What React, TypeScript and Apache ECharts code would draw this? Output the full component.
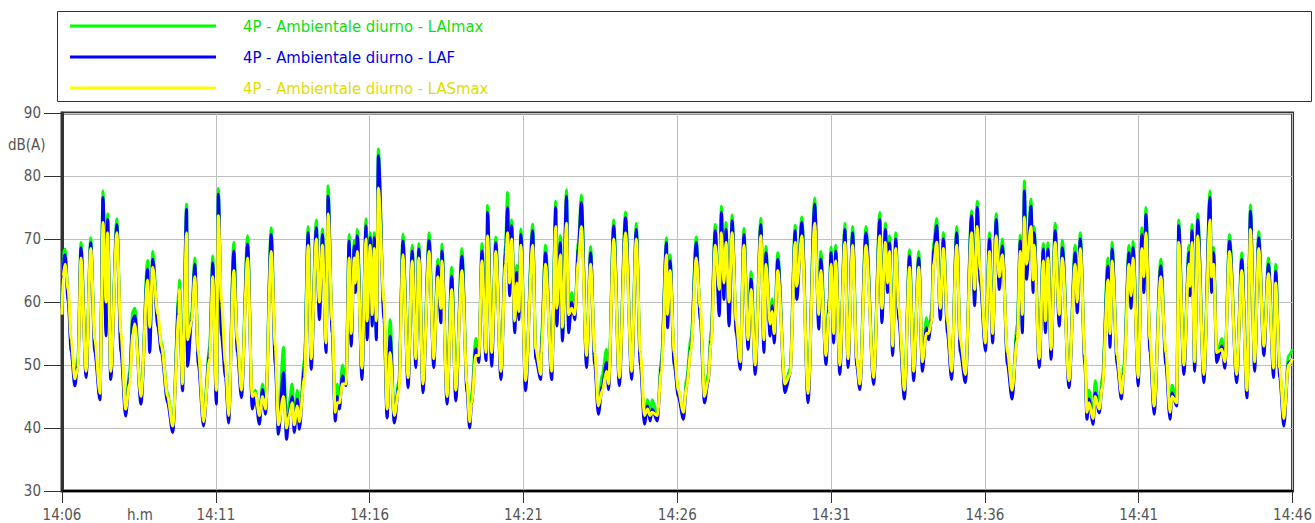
import React, { useEffect, useRef } from "react";
import * as echarts from "echarts";

// seconds elapsed since 14:06:00
const TIMES = [
  0, 2, 6, 12, 18, 25, 31, 37, 47, 56, 64, 74, 80, 86, 89, 95, 107, 115, 124, 132,
  138, 142, 154, 167, 171, 177, 187, 194, 206, 216, 228, 229, 235, 243, 245, 253, 259, 266, 276, 288,
  294, 301, 305, 311, 319, 325, 335, 342, 350, 362, 371, 377, 385, 391, 397, 408, 416, 422, 432, 438,
  443, 449, 453, 459, 463, 473, 480, 486, 496, 502, 508, 515, 519, 527, 533, 537, 541, 547, 554, 560,
  564, 570, 572, 576, 585, 593, 595, 601, 605, 609, 613, 617, 628, 634, 640, 648, 657, 665, 675, 683,
  690, 696, 704, 716, 725, 733, 739, 741, 751, 760, 768, 780, 790, 795, 799, 807, 813, 819, 827, 830,
  838, 846, 856, 865, 869, 873, 877, 883, 887, 891, 895, 904, 918, 924, 934, 935, 943, 955, 963, 965,
  972, 976, 984, 988, 994, 1000, 1007, 1013, 1023, 1031, 1039, 1046, 1054, 1062, 1066, 1076, 1087, 1099, 1111, 1120,
  1128, 1136, 1142, 1147, 1151, 1161, 1169, 1179, 1181, 1186, 1194, 1202, 1212, 1218, 1227, 1237, 1245, 1253, 1260, 1266,
  1274, 1282, 1286, 1291, 1295, 1301, 1307, 1315, 1323, 1330, 1338, 1344, 1352, 1363, 1369, 1373, 1381, 1385, 1389, 1396,
  1410, 1420, 1430, 1433, 1443, 1455, 1468, 1476, 1480, 1490, 1496, 1500, 1505, 1509, 1517, 1527, 1533, 1542, 1550, 1556,
  1568, 1583, 1595, 1599, 1606, 1610, 1614, 1620, 1626, 1632, 1643, 1653, 1661, 1671, 1678, 1686, 1690, 1696, 1700, 1706,
  1713, 1719, 1727, 1735, 1745, 1752, 1762, 1774, 1780, 1785, 1791, 1801, 1809, 1815, 1822, 1828, 1834, 1844, 1853, 1863,
  1869, 1873, 1877, 1881, 1890, 1894, 1896, 1906, 1914, 1918, 1923, 1929, 1937, 1945, 1951, 1964, 1976, 1980, 1986, 1995,
  1999, 2003, 2011, 2015, 2023, 2029, 2040, 2044, 2048, 2058, 2066, 2071, 2081, 2085, 2089, 2099, 2106, 2110, 2114, 2122,
  2130, 2143, 2153, 2161, 2165, 2174, 2178, 2188, 2198, 2200, 2204, 2209, 2215, 2227, 2239, 2242, 2246, 2252, 2262, 2268,
  2277, 2291, 2301, 2311, 2318, 2326, 2334, 2344, 2353, 2363, 2367, 2375, 2383, 2392, 2400,
];

const LAF = [
  59, 66.5, 67.5, 60, 52, 46.7, 50, 68.6, 48, 69.4, 52, 44.5, 76.6, 54.6, 73.1, 47.7, 72.3, 52, 41.9, 48,
  57.2, 57.8, 43.8, 65.2, 52, 66.8, 56, 52, 44, 39.3, 60.4, 62, 45.9, 74.7, 49.8, 57.2, 66, 50, 40.3, 52,
  66.2, 43.8, 77.1, 54.6, 48, 40.8, 68.1, 52, 44.8, 69.2, 43, 45, 40.6, 46.1, 42.2, 70.7, 50, 39, 48.8, 38.2,
  42.4, 45, 39.3, 44.6, 39.8, 49.8, 71, 49.3, 71.8, 57.2, 70.7, 52, 76.8, 55, 41.1, 45, 43, 48.3, 46.7, 69.7,
  53, 68.9, 61.5, 70.5, 47.7, 72.1, 54, 70.2, 56.2, 70.2, 54, 83.2, 57.2, 41.6, 54.6, 40.8, 46.7, 69.7, 46.4, 68.1,
  49.6, 68.4, 45.6, 69.8, 49.6, 65.7, 56.7, 68.1, 43.8, 64.1, 44.3, 67.3, 45.6, 40, 43.8, 52.6, 50.4, 68.1, 50.7, 74.2,
  49.8, 69.4, 47.7, 67.8, 75, 61, 72.1, 55.1, 64.7, 57.2, 70.7, 45.9, 71.3, 50.9, 47.7, 53, 67.8, 47.7, 75, 56.2,
  69.4, 53.8, 76.8, 55.1, 60, 57.2, 68.4, 75.8, 49.6, 67.8, 50, 42.2, 46.7, 50.4, 46.1, 72.1, 46.7, 73.4, 47.7, 71.5,
  50, 40.6, 43.5, 41.1, 43, 41.1, 50, 69.4, 55.9, 66.5, 50, 45, 41.4, 46.7, 53, 69.4, 57.2, 44, 47.2, 54,
  71.3, 57.8, 74.2, 60.4, 71.5, 56.2, 72.9, 55, 49.3, 70.7, 52.5, 63.6, 48.5, 72.3, 52, 67.8, 54.6, 59.4, 53.5, 66.8,
  45.6, 48.5, 71.3, 60.4, 72.6, 44, 75.5, 55.7, 66.8, 50.1, 59.4, 67.8, 53.5, 68.1, 48.5, 71.5, 49.6, 71, 49.8, 46.1,
  71, 46.9, 73.1, 56.7, 71.5, 61.5, 69.4, 51.5, 70, 57.2, 44.6, 67.3, 47.5, 67, 49, 55.9, 54, 57.2, 68.1, 72.1,
  57.2, 70, 55, 47.7, 71, 52, 47.2, 73.7, 59.4, 75, 63, 52.2, 70, 53.5, 73.1, 62, 68.9, 50, 44.6, 55,
  69.7, 55.1, 77.6, 63.6, 75.2, 61.5, 71, 49.6, 68.4, 55.1, 68.4, 50.9, 71.3, 56.2, 68.6, 46.4, 67.8, 58.3, 70, 50,
  41.4, 44.6, 40.6, 45.6, 42.4, 46.7, 65.7, 52.8, 68.4, 50, 44.6, 48.8, 67.8, 59, 68.6, 46.7, 70.7, 61.5, 73.9, 52,
  42.2, 65.7, 50, 41.4, 45.6, 43.5, 72.1, 48.5, 67.8, 61, 71.3, 49, 73.1, 47.2, 76.6, 61.5, 67.8, 50.4, 53, 49.5,
  69.7, 47.2, 66.8, 44.8, 74.4, 49, 70.2, 51.5, 66, 48, 64.9, 48, 40.3, 50.4, 51,
];

const LAI_MAX = [
  59.5, 67.5, 68.4, 61, 53, 47.5, 51, 69.5, 48.6, 70.2, 53, 45.5, 77.6, 56, 74, 48.5, 73.2, 53, 43, 49,
  58.5, 59, 44.6, 66.6, 53, 68, 57, 53.5, 45.5, 40.2, 61.5, 63.5, 46.8, 75.5, 51, 58.5, 67, 51, 41.3, 53,
  67.3, 44.8, 78, 55.6, 49, 41.8, 69.5, 53, 45.8, 70.5, 44, 46, 41.6, 47, 43.2, 71.8, 51, 40, 52.8, 39.5,
  44, 47, 40.5, 46, 41, 51, 72, 50.3, 73, 58, 71.6, 53, 78.4, 56, 42, 47, 44.5, 50, 47.5, 70.7,
  54, 69.8, 62.5, 71.5, 48.5, 73.2, 55, 71, 57.5, 71, 55, 84.3, 58.5, 42.5, 57.2, 41.8, 47.5, 70.8, 47.3, 69,
  50.6, 69.3, 46.5, 71, 50.5, 66.8, 57.7, 69.2, 44.7, 65.5, 45.3, 68.5, 46.8, 41, 45.5, 54.2, 51.3, 69.3, 51.6, 75.3,
  50.8, 70.3, 48.5, 69, 77.4, 62, 73, 56, 65.8, 58, 71.6, 46.8, 72.4, 52, 48.5, 54.5, 69, 48.5, 76, 57,
  70.5, 54.6, 77.8, 56, 61.5, 58, 69.5, 77, 50.5, 68.8, 51, 43.5, 48.5, 52.5, 47, 73, 47.5, 74.3, 48.5, 72.5,
  51, 41.5, 44.5, 42, 44.5, 42, 51, 70.2, 57, 67.5, 51, 46, 42.2, 47.8, 54.5, 70.3, 58, 45, 48.5, 55.5,
  72.3, 59, 75.2, 62, 72.6, 57.5, 73.8, 56, 50.3, 71.7, 53.5, 64.8, 49.5, 73.3, 53, 68.8, 55.8, 60.5, 54.5, 67.8,
  46.5, 49.5, 72.2, 61.5, 73.5, 45, 76.5, 57, 68, 51, 60.5, 68.7, 54.5, 69, 49.5, 72.5, 50.5, 72, 51, 47,
  72, 47.8, 74.2, 57.5, 72.5, 62.6, 70.5, 52.5, 71, 58.3, 45.6, 68.3, 48.5, 68, 50, 57.5, 55, 58.5, 69.3, 73.2,
  58.3, 71, 56, 48.5, 72, 53, 48, 74.5, 60.5, 76, 64, 53, 71, 54.5, 74, 63, 70, 51, 45.5, 56.5,
  70.6, 56, 79.2, 64.6, 76.3, 62.5, 72, 50.5, 69.3, 56, 69.4, 51.8, 72.5, 57.5, 69.8, 47.3, 69, 59.3, 71, 51,
  42.3, 46, 41.6, 47.5, 43.3, 48, 67, 54, 69.5, 51, 45.5, 50, 69, 60, 69.6, 47.6, 71.8, 62.5, 75, 53,
  43.2, 66.8, 51, 42.4, 46.8, 44.5, 73, 49.5, 69, 62, 72.3, 50, 74, 48, 77.6, 62.5, 68.7, 51.3, 54.2, 50.5,
  70.7, 48, 67.8, 45.7, 75.4, 50, 71.2, 52.5, 67, 49, 66, 49, 41.3, 51.5, 52.5,
];

const LAS_MAX = [
  58, 64, 66, 62, 54, 47.8, 49.5, 67, 49, 68.5, 54, 45.5, 72.6, 60, 71, 49, 71, 55, 43, 47,
  55, 56.5, 45, 63.5, 56, 65.5, 58, 53, 45, 40.3, 58, 62, 47, 71, 54, 57, 64, 52, 41, 51,
  64, 46, 73.7, 60, 50, 42, 65, 54, 46, 67, 45, 45.5, 42, 45, 43, 68, 53, 40.5, 45, 40,
  42, 44, 40.5, 43.5, 41, 48, 69, 51, 70, 60, 69, 53.5, 74, 57, 42.5, 44, 44, 47, 47, 67,
  55, 67, 63, 68, 49.5, 70, 57, 69, 58, 68.5, 57, 78.1, 60, 43, 52, 42, 46, 67.5, 48, 66.5,
  51, 67, 47, 68, 51, 64, 59, 66.5, 45, 62, 46, 65, 47, 41, 44, 51.5, 51.5, 66.5, 52, 70.5,
  52, 68, 49, 66, 71, 63, 70, 57, 63, 58.5, 69, 47.5, 69, 52.5, 48.5, 52, 66, 49, 72, 59,
  67.5, 56, 72.5, 58, 59, 58, 66.5, 72, 51.5, 66, 52, 43.5, 46, 49, 47, 70, 48, 71, 49, 70,
  52, 42, 43, 42, 42.5, 42, 49, 67.5, 58, 65, 52, 46, 42.5, 46.5, 52.5, 67, 59, 45, 47.5, 53.5,
  69, 62, 71, 63, 69.5, 60, 71, 57, 50.5, 69, 54, 62, 50, 70.5, 54, 66, 56.5, 58.5, 55, 65,
  47, 48.5, 69.5, 62.5, 70.5, 45.5, 72.5, 58, 65, 51.5, 58.5, 66, 55, 66.5, 50, 69.5, 51, 69, 51, 47,
  69, 48, 70.5, 59, 69.5, 63, 68, 53, 68.5, 59, 46, 65.5, 49, 65.5, 50.5, 55, 55, 57, 66, 69.5,
  59, 68.5, 57, 49, 69, 54, 48.5, 71, 62, 72, 65, 53.5, 68, 55, 70.5, 64, 67.5, 52, 46, 54,
  68, 58, 73.5, 66, 72, 63.5, 69, 51, 66.5, 57, 67, 52.5, 69.5, 58, 67, 47.5, 66, 60, 68.5, 51.5,
  42.5, 44, 41.5, 45, 43, 46.5, 63.5, 55, 66.5, 51.5, 45.5, 48.5, 66, 61, 67, 48, 68.5, 64, 71, 54,
  43.5, 64, 52, 42.5, 45, 44, 69.5, 50, 66, 62.5, 69.5, 50.5, 70.5, 48.5, 73, 64, 66, 52, 52.5, 50.5,
  68, 48.5, 65, 46, 71.5, 50.5, 68.5, 53, 64.5, 49.5, 63, 49.5, 41.5, 50, 51,
];

const SERIES_NAMES = [
  "4P - Ambientale diurno - LAImax",
  "4P - Ambientale diurno - LAF",
  "4P - Ambientale diurno - LASmax",
];
const LINE_COLORS = ["#00ff00", "#0000ff", "#ffff00"];
const TEXT_COLORS = ["#11dd11", "#0000dd", "#dddd00"];
const START_MIN = 14 * 60 + 6;

const FONT = "'DejaVu Sans Condensed', 'Liberation Sans Narrow', Lato, sans-serif";

function fmtTime(sec: number) {
  const m = START_MIN + Math.round(sec / 60);
  const h = Math.floor(m / 60);
  const mm = m % 60;
  return `${h}:${mm < 10 ? "0" + mm : mm}`;
}

export default function App() {
  const ref = useRef<HTMLDivElement>(null);
  useEffect(() => {
    if (!ref.current) return;
    const chart = echarts.init(ref.current, undefined, { renderer: "svg" });
    const seriesData = [LAI_MAX, LAF, LAS_MAX];
    chart.setOption({
      animation: false,
      backgroundColor: "#ffffff",
      textStyle: { fontFamily: FONT },
      grid: {
        left: 62,
        right: 19,
        top: 113,
        bottom: 32,
        show: true,
        borderColor: "#333333",
        borderWidth: 3,
        backgroundColor: "transparent",
      },
      legend: {
        orient: "vertical",
        left: 70,
        top: 16,
        itemWidth: 146,
        itemHeight: 20,
        itemGap: 11,
        padding: 0,
        icon: "path://M0,9 L146,9 L146,12 L0,12 Z",
        data: SERIES_NAMES.map((n, i) => ({
          name: n,
          itemStyle: { color: LINE_COLORS[i] },
          textStyle: {
            color: TEXT_COLORS[i],
            fontSize: 16.5,
            lineHeight: 20,
            fontFamily: FONT,
            padding: [0, 0, 0, 22],
          },
        })),
        selectedMode: false,
      },
      graphic: [
        {
          type: "rect",
          shape: { x: 57.5, y: 11.5, width: 1254, height: 90 },
          style: { fill: "none", stroke: "#333333", lineWidth: 1 },
          silent: true,
        },
        {
          type: "text",
          left: 8,
          top: 137,
          style: { text: "dB(A)", fontSize: 15, fill: "#555555", fontFamily: FONT },
        },
        {
          type: "text",
          left: 127,
          top: 507,
          style: { text: "h.m", fontSize: 15, fill: "#555555", fontFamily: FONT },
        },
      ],
      xAxis: {
        type: "value",
        min: 0,
        max: 2400,
        interval: 300,
        axisLine: { show: true, lineStyle: { color: "#000000", width: 2 } },
        axisTick: { show: true, length: 12, lineStyle: { color: "#333333", width: 1 } },
        axisLabel: {
          formatter: (v: number) => fmtTime(v),
          color: "#555555",
          fontSize: 15,
          fontFamily: FONT,
          margin: 16,
          showMinLabel: true,
          showMaxLabel: true,
        },
        splitLine: { show: true, lineStyle: { color: "#c0c0c0", width: 1 } },
      },
      yAxis: {
        type: "value",
        min: 30,
        max: 90,
        interval: 10,
        axisLine: { show: true, lineStyle: { color: "#333333", width: 3 } },
        axisTick: { show: true, length: 18, lineStyle: { color: "#333333", width: 1 } },
        axisLabel: { color: "#555555", fontSize: 15, fontFamily: FONT, margin: 21 },
        splitLine: { show: true, lineStyle: { color: "#c0c0c0", width: 1 } },
      },
      series: SERIES_NAMES.map((n, i) => ({
        name: n,
        type: "line",
        data: TIMES.map((t, k) => [t, seriesData[i][k]]),
        showSymbol: false,
        symbol: "none",
        smooth: 0.3,
        smoothMonotone: "x",
        lineStyle: { color: LINE_COLORS[i], width: 3 },
        itemStyle: { color: LINE_COLORS[i] },
        z: 2 + i,
      })),
    });
    return () => chart.dispose();
  }, []);
  return (
    <div
      ref={ref}
      style={{ position: "fixed", left: 0, top: 0, width: 1315, height: 523, background: "#fff" }}
    />
  );
}
